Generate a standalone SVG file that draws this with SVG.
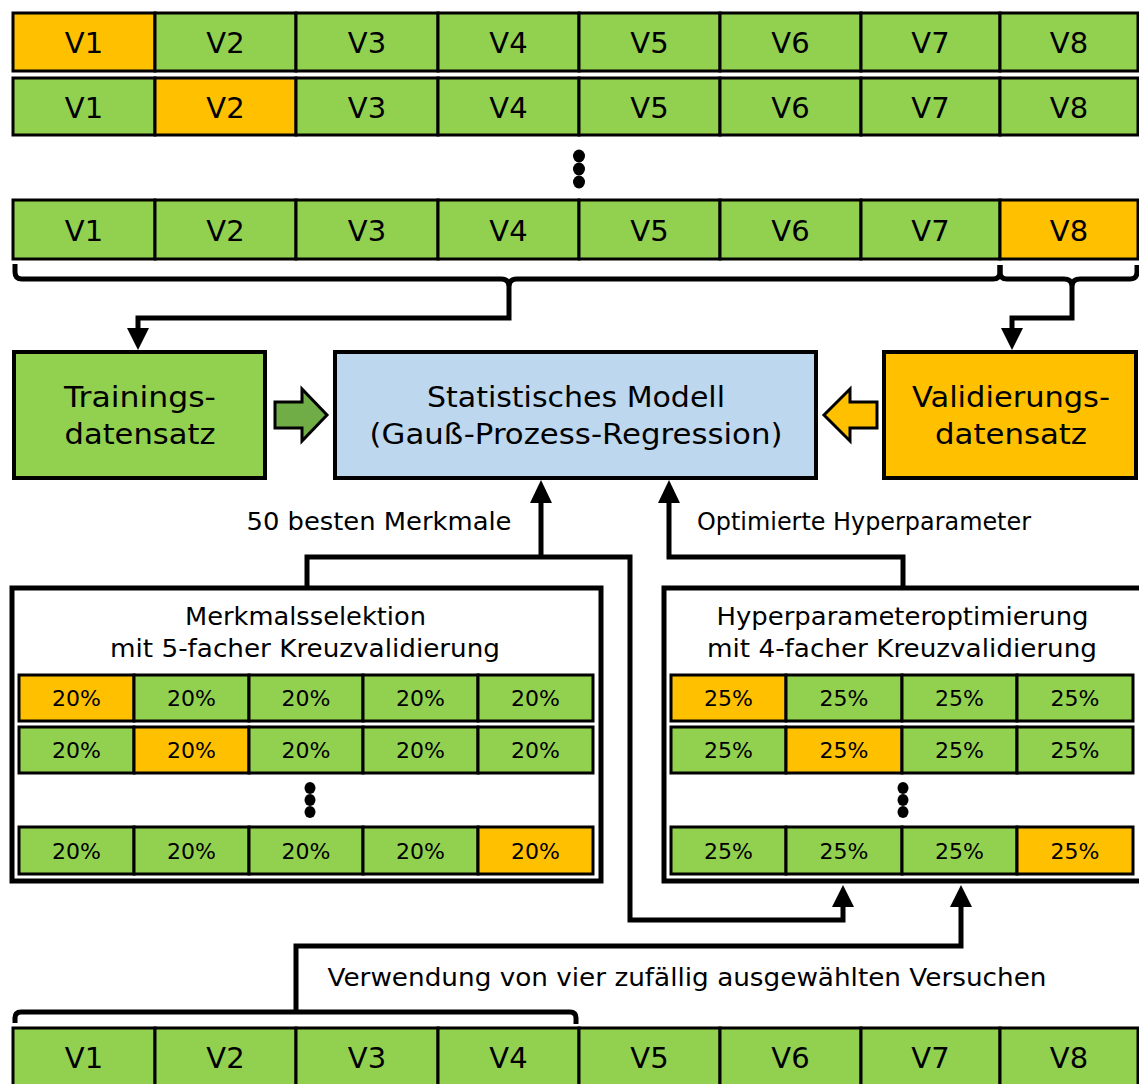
<svg xmlns="http://www.w3.org/2000/svg" width="1139" height="1084" viewBox="0 0 1139 1084">
  <style>
    text { font-family: "DejaVu Sans", Verdana, sans-serif; fill: #000; text-anchor: middle; }
    .v { font-size: 29px; }
    .big { font-size: 29px; }
    .lbl { font-size: 24px; }
    .pct { font-size: 22px; }
    .g { fill: #92d050; stroke: #000; stroke-width: 3; }
    .o { fill: #ffc000; stroke: #000; stroke-width: 3; }
    .box { stroke: #000; stroke-width: 4; }
    .frame { fill: #fff; stroke: #000; stroke-width: 5; }
    .wire { fill: none; stroke: #000; stroke-width: 5; stroke-linejoin: miter; }
    .brace { fill: none; stroke: #000; stroke-width: 5; stroke-linejoin: round; stroke-linecap: butt; }
    .head { fill: #000; }
    .dot { fill: #000; }
  </style>
  <rect width="1139" height="1084" fill="#fff"/>

  <!-- Fold row 1: V1 held out -->
  <g id="row1">
    <rect class="o" x="13" y="13" width="142" height="58"/>
    <rect class="g" x="155" y="13" width="141" height="58"/>
    <rect class="g" x="296" y="13" width="142" height="58"/>
    <rect class="g" x="438" y="13" width="141" height="58"/>
    <rect class="g" x="579" y="13" width="141" height="58"/>
    <rect class="g" x="720" y="13" width="141" height="58"/>
    <rect class="g" x="861" y="13" width="139" height="58"/>
    <rect class="g" x="1000" y="13" width="138" height="58"/>
    <text class="v" x="84" y="53">V1</text>
    <text class="v" x="225.5" y="53">V2</text>
    <text class="v" x="367" y="53">V3</text>
    <text class="v" x="508.5" y="53">V4</text>
    <text class="v" x="649.5" y="53">V5</text>
    <text class="v" x="790.5" y="53">V6</text>
    <text class="v" x="930.5" y="53">V7</text>
    <text class="v" x="1069" y="53">V8</text>
  </g>

  <!-- Fold row 2: V2 held out -->
  <g id="row2">
    <rect class="g" x="13" y="78" width="142" height="57"/>
    <rect class="o" x="155" y="78" width="141" height="57"/>
    <rect class="g" x="296" y="78" width="142" height="57"/>
    <rect class="g" x="438" y="78" width="141" height="57"/>
    <rect class="g" x="579" y="78" width="141" height="57"/>
    <rect class="g" x="720" y="78" width="141" height="57"/>
    <rect class="g" x="861" y="78" width="139" height="57"/>
    <rect class="g" x="1000" y="78" width="138" height="57"/>
    <text class="v" x="84" y="118">V1</text>
    <text class="v" x="225.5" y="118">V2</text>
    <text class="v" x="367" y="118">V3</text>
    <text class="v" x="508.5" y="118">V4</text>
    <text class="v" x="649.5" y="118">V5</text>
    <text class="v" x="790.5" y="118">V6</text>
    <text class="v" x="930.5" y="118">V7</text>
    <text class="v" x="1069" y="118">V8</text>
  </g>

  <g id="row-dots">
    <ellipse class="dot" cx="579" cy="156" rx="6" ry="6.5"/>
    <ellipse class="dot" cx="579" cy="169" rx="6" ry="6.5"/>
    <ellipse class="dot" cx="579" cy="182" rx="6" ry="6.5"/>
  </g>

  <!-- Fold row 8: V8 held out -->
  <g id="row8">
    <rect class="g" x="13" y="200" width="142" height="59"/>
    <rect class="g" x="155" y="200" width="141" height="59"/>
    <rect class="g" x="296" y="200" width="142" height="59"/>
    <rect class="g" x="438" y="200" width="141" height="59"/>
    <rect class="g" x="579" y="200" width="141" height="59"/>
    <rect class="g" x="720" y="200" width="141" height="59"/>
    <rect class="g" x="861" y="200" width="139" height="59"/>
    <rect class="o" x="1000" y="200" width="138" height="59"/>
    <text class="v" x="84" y="241">V1</text>
    <text class="v" x="225.5" y="241">V2</text>
    <text class="v" x="367" y="241">V3</text>
    <text class="v" x="508.5" y="241">V4</text>
    <text class="v" x="649.5" y="241">V5</text>
    <text class="v" x="790.5" y="241">V6</text>
    <text class="v" x="930.5" y="241">V7</text>
    <text class="v" x="1069" y="241">V8</text>
  </g>

  <g id="training">
    <rect class="box" x="14" y="352" width="251" height="126" fill="#92d050"/>
    <text class="big" x="140" y="407" textLength="152" lengthAdjust="spacingAndGlyphs">Trainings-</text>
    <text class="big" x="140" y="444" textLength="151" lengthAdjust="spacingAndGlyphs">datensatz</text>
  </g>

  <g id="model">
    <rect class="box" x="335" y="352" width="481" height="126" fill="#bdd7ee"/>
    <text class="big" x="576" y="407" textLength="298" lengthAdjust="spacingAndGlyphs">Statistisches Modell</text>
    <text class="big" x="576" y="444" textLength="413" lengthAdjust="spacingAndGlyphs">(Gauß-Prozess-Regression)</text>
  </g>

  <g id="validation">
    <rect class="box" x="884" y="352" width="252" height="126" fill="#ffc000"/>
    <text class="big" x="1011" y="407" textLength="198" lengthAdjust="spacingAndGlyphs">Validierungs-</text>
    <text class="big" x="1011" y="444" textLength="152" lengthAdjust="spacingAndGlyphs">datensatz</text>
  </g>

  <g id="feed-training">
    <polygon points="275,402 302,402 302,389 327,415 302,441 302,428 275,428" fill="#70ad47" stroke="#000" stroke-width="3" stroke-linejoin="miter"/>
  </g>
  <g id="feed-validation">
    <polygon points="877,402 850,402 850,389 824,415 850,441 850,428 877,428" fill="#ffc000" stroke="#000" stroke-width="3" stroke-linejoin="miter"/>
  </g>

  <!-- Feature selection, 5 folds -->
  <g id="feature-selection">
    <rect class="frame" x="12" y="588" width="589" height="293"/>
    <text class="lbl" x="305.5" y="625" textLength="241" lengthAdjust="spacingAndGlyphs">Merkmalsselektion</text>
    <text class="lbl" x="305" y="657" textLength="390" lengthAdjust="spacingAndGlyphs">mit 5-facher Kreuzvalidierung</text>
    <g>
      <rect class="o" x="19" y="675" width="115" height="46"/>
      <rect class="g" x="134" y="675" width="115" height="46"/>
      <rect class="g" x="249" y="675" width="114" height="46"/>
      <rect class="g" x="363" y="675" width="115" height="46"/>
      <rect class="g" x="478" y="675" width="115" height="46"/>
      <text class="pct" x="76.5" y="706">20%</text>
      <text class="pct" x="191.5" y="706">20%</text>
      <text class="pct" x="306" y="706">20%</text>
      <text class="pct" x="420.5" y="706">20%</text>
      <text class="pct" x="535.5" y="706">20%</text>
    </g>
    <g>
      <rect class="g" x="19" y="727" width="115" height="46"/>
      <rect class="o" x="134" y="727" width="115" height="46"/>
      <rect class="g" x="249" y="727" width="114" height="46"/>
      <rect class="g" x="363" y="727" width="115" height="46"/>
      <rect class="g" x="478" y="727" width="115" height="46"/>
      <text class="pct" x="76.5" y="758">20%</text>
      <text class="pct" x="191.5" y="758">20%</text>
      <text class="pct" x="306" y="758">20%</text>
      <text class="pct" x="420.5" y="758">20%</text>
      <text class="pct" x="535.5" y="758">20%</text>
    </g>
    <ellipse class="dot" cx="310" cy="788" rx="5.5" ry="6"/>
    <ellipse class="dot" cx="310" cy="800" rx="5.5" ry="6"/>
    <ellipse class="dot" cx="310" cy="812" rx="5.5" ry="6"/>
    <g>
      <rect class="g" x="19" y="827" width="115" height="47"/>
      <rect class="g" x="134" y="827" width="115" height="47"/>
      <rect class="g" x="249" y="827" width="114" height="47"/>
      <rect class="g" x="363" y="827" width="115" height="47"/>
      <rect class="o" x="478" y="827" width="115" height="47"/>
      <text class="pct" x="76.5" y="859">20%</text>
      <text class="pct" x="191.5" y="859">20%</text>
      <text class="pct" x="306" y="859">20%</text>
      <text class="pct" x="420.5" y="859">20%</text>
      <text class="pct" x="535.5" y="859">20%</text>
    </g>
  </g>

  <!-- Hyperparameter optimisation, 4 folds -->
  <g id="hyperparameter-optimization">
    <rect class="frame" x="664" y="588" width="480" height="293"/>
    <text class="lbl" x="902.5" y="625" textLength="372" lengthAdjust="spacingAndGlyphs">Hyperparameteroptimierung</text>
    <text class="lbl" x="902" y="657" textLength="390" lengthAdjust="spacingAndGlyphs">mit 4-facher Kreuzvalidierung</text>
    <g>
      <rect class="o" x="671" y="675" width="115" height="46"/>
      <rect class="g" x="786" y="675" width="116" height="46"/>
      <rect class="g" x="902" y="675" width="115" height="46"/>
      <rect class="g" x="1017" y="675" width="116" height="46"/>
      <text class="pct" x="728.5" y="706">25%</text>
      <text class="pct" x="844" y="706">25%</text>
      <text class="pct" x="959.5" y="706">25%</text>
      <text class="pct" x="1075" y="706">25%</text>
    </g>
    <g>
      <rect class="g" x="671" y="727" width="115" height="46"/>
      <rect class="o" x="786" y="727" width="116" height="46"/>
      <rect class="g" x="902" y="727" width="115" height="46"/>
      <rect class="g" x="1017" y="727" width="116" height="46"/>
      <text class="pct" x="728.5" y="758">25%</text>
      <text class="pct" x="844" y="758">25%</text>
      <text class="pct" x="959.5" y="758">25%</text>
      <text class="pct" x="1075" y="758">25%</text>
    </g>
    <ellipse class="dot" cx="903" cy="788" rx="5.5" ry="6"/>
    <ellipse class="dot" cx="903" cy="800" rx="5.5" ry="6"/>
    <ellipse class="dot" cx="903" cy="812" rx="5.5" ry="6"/>
    <g>
      <rect class="g" x="671" y="827" width="115" height="47"/>
      <rect class="g" x="786" y="827" width="116" height="47"/>
      <rect class="g" x="902" y="827" width="115" height="47"/>
      <rect class="o" x="1017" y="827" width="116" height="47"/>
      <text class="pct" x="728.5" y="859">25%</text>
      <text class="pct" x="844" y="859">25%</text>
      <text class="pct" x="959.5" y="859">25%</text>
      <text class="pct" x="1075" y="859">25%</text>
    </g>
  </g>

  <!-- Full data set, all eight runs -->
  <g id="all-runs">
    <rect class="g" x="13" y="1028" width="142" height="60"/>
    <rect class="g" x="155" y="1028" width="141" height="60"/>
    <rect class="g" x="296" y="1028" width="142" height="60"/>
    <rect class="g" x="438" y="1028" width="141" height="60"/>
    <rect class="g" x="579" y="1028" width="141" height="60"/>
    <rect class="g" x="720" y="1028" width="141" height="60"/>
    <rect class="g" x="861" y="1028" width="139" height="60"/>
    <rect class="g" x="1000" y="1028" width="138" height="60"/>
    <text class="v" x="84" y="1068">V1</text>
    <text class="v" x="225.5" y="1068">V2</text>
    <text class="v" x="367" y="1068">V3</text>
    <text class="v" x="508.5" y="1068">V4</text>
    <text class="v" x="649.5" y="1068">V5</text>
    <text class="v" x="790.5" y="1068">V6</text>
    <text class="v" x="930.5" y="1068">V7</text>
    <text class="v" x="1069" y="1068">V8</text>
  </g>

  <g id="connectors">
    <!-- braces under the last fold -->
    <path class="brace" d="M15,264 V272 Q15,279 22,279 H501 Q508,279 509,285 Q510,279 517,279 H993 Q1000,279 1000,272 V265"/>
    <path class="brace" d="M1000,265 V272 Q1000,279 1007,279 H1064 Q1071,279 1072,285 Q1073,279 1080,279 H1130 Q1137,279 1137,272 V265"/>
    <path class="wire" d="M509,283 V318 H138 V330"/>
    <polygon class="head" points="127,328 149,328 138,350"/>
    <path class="wire" d="M1072,283 V318 H1012 V330"/>
    <polygon class="head" points="1001,328 1023,328 1012,350"/>

    <!-- feature selection to model, and on to hyperparameter optimisation -->
    <path class="wire" d="M307,588 V557 H630 V920 H843 V905"/>
    <path class="wire" d="M541,557 V500"/>
    <polygon class="head" points="530,503 552,503 541,480"/>
    <polygon class="head" points="832,907 854,907 843,885"/>

    <!-- hyperparameter optimisation to model -->
    <path class="wire" d="M903,588 V557 H669 V500"/>
    <polygon class="head" points="658,503 680,503 669,480"/>

    <!-- four random runs -->
    <path class="brace" d="M15,1023 V1018 Q15,1012 21,1012 H570 Q576,1012 576,1018 V1024"/>
    <path class="wire" d="M296,1012 V946 H961 V905"/>
    <polygon class="head" points="950,907 972,907 961,885"/>
  </g>

  <g id="labels">
    <text class="lbl" x="379" y="530" textLength="265" lengthAdjust="spacingAndGlyphs">50 besten Merkmale</text>
    <text class="lbl" x="864" y="530" textLength="334" lengthAdjust="spacingAndGlyphs">Optimierte Hyperparameter</text>
    <text class="lbl" x="687" y="986" textLength="719" lengthAdjust="spacingAndGlyphs">Verwendung von vier zufällig ausgewählten Versuchen</text>
  </g>
</svg>
